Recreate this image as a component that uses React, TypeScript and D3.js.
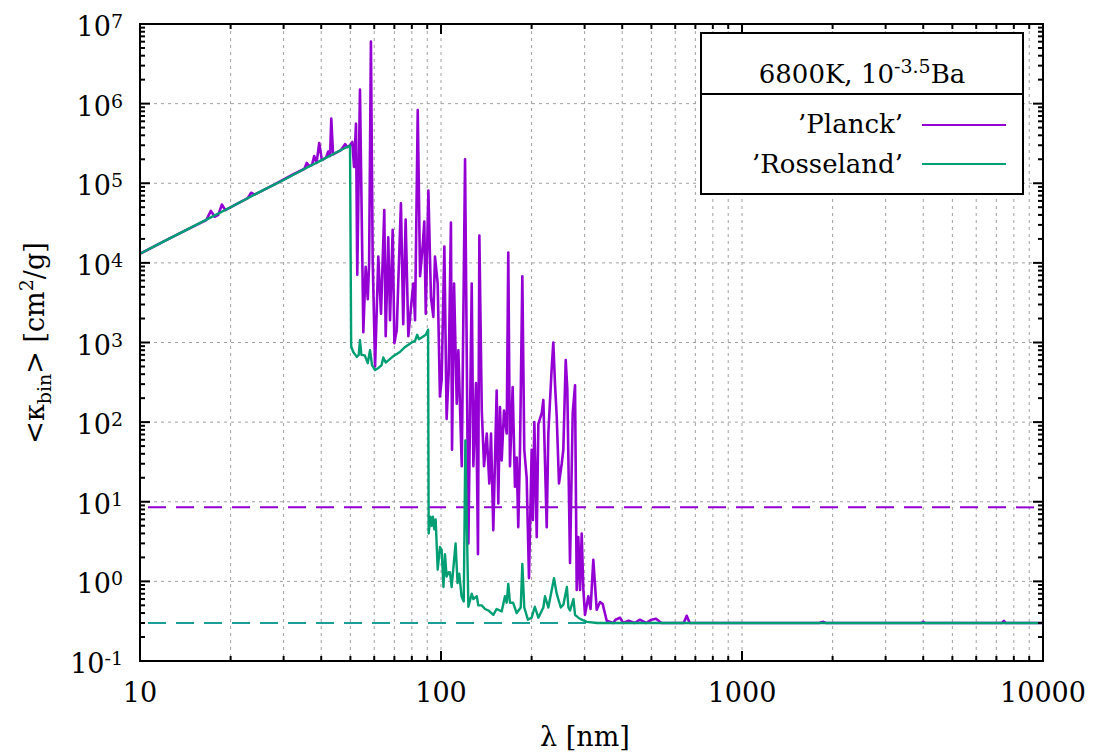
import React from 'react';
import * as d3 from 'd3';

// ---------- data ----------
const xTickValues = [10, 100, 1000, 10000];
const yTickExponents = [-1, 0, 1, 2, 3, 4, 5, 6, 7];

const planckMean = 8.5;
const rosselandMean = 0.3;

const planck: [number, number][] = [
  [10, 1.3e4], [12, 1.86e4], [14, 2.5e4], [16.6, 3.45e4], [17.2, 4.5e4], [17.7, 3.8e4], [18.2, 4.0e4],
  [18.7, 5.4e4], [19.2, 4.6e4], [22.8, 6.5e4], [23.4, 7.6e4], [24, 7.2e4], [28, 9.7e4], [32, 1.27e5],
  [35.2, 1.52e5], [35.8, 1.8e5], [36.5, 1.64e5], [37.3, 1.7e5], [37.9, 2.2e5], [38.6, 1.8e5],
  [39.4, 3.2e5], [40.2, 1.95e5], [41.5, 2.1e5], [42.2, 2.5e5], [42.8, 2.2e5], [43.2, 6.5e5],
  [43.8, 2.3e5], [46.5, 2.6e5], [48, 3.1e5], [48.8, 2.85e5], [49.85, 3.0e5],
  [50.75, 3.3e5], [51.4, 1.6e5], [52.2, 5.6e5], [52.7, 7.1e3], [53.8, 1.5e6], [55.2, 1.35e3],
  [56.2, 8.9e3], [57.1, 3.5e3], [57.7, 9.8e3], [58.5, 6.0e6], [59.3, 1.07e4], [60.4, 500],
  [61.9, 1.2e4], [63.2, 2.3e3], [64.8, 4.6e4], [65.5, 1.2e3], [66.8, 2.1e4], [67.7, 1.9e3],
  [69.1, 2.6e4], [70.0, 980], [71.3, 1.45e3], [72.1, 5.5e3], [73.6, 5.6e4], [74.9, 1.7e3],
  [76.3, 3.5e4], [77.9, 1.2e3], [79.5, 2.8e3], [80.9, 5.5e3], [82.0, 1.9e3], [83.7, 8.3e5],
  [85.2, 6.8e3], [87.0, 1.7e4], [88.0, 3.3e4], [89.0, 2.3e3], [90.8, 8.1e4], [92.6, 3.7e3],
  [94.3, 2.1e3], [95.5, 1.2e4], [97.5, 5.5e3], [99.2, 210], [100.5, 340], [102.6, 1.6e4],
  [104.4, 110], [106.0, 400], [107.9, 3.2e4], [108.8, 45], [110.5, 5.5e3], [112.8, 170],
  [114.2, 800], [117.2, 28], [120.2, 2.0e5], [123.3, 3.0], [126.5, 5.5e3], [128.1, 28],
  [130.7, 310], [132.7, 2.2], [134.1, 2.2e4], [136.6, 140], [139.0, 28], [141.9, 72], [144.7, 17],
  [146.6, 72], [149.2, 4.4], [153.1, 250], [155.0, 9.5], [157.0, 155], [159.1, 33], [161.9, 140],
  [165.3, 72], [167.3, 1.35e4], [169.5, 28], [173.0, 275], [176.1, 15.5], [178.4, 36], [180.6, 4.8],
  [183.0, 45], [186.3, 6.8e3], [189.1, 45], [192.6, 20], [196.0, 1.1], [200.1, 45], [202, 5.9],
  [204.2, 100], [208.0, 3.6], [210.6, 95], [216.1, 130], [218.8, 190], [224.5, 4.8], [227.3, 72],
  [233.3, 490], [236.1, 1.0e3], [239.2, 300], [242.3, 120], [246.6, 17], [251.8, 30], [254.9, 45],
  [259.6, 600], [262.8, 260], [268.3, 1.7], [273.9, 130], [278.8, 290], [282.4, 0.78], [285.9, 3.6],
  [289.7, 0.78], [293.4, 4.0], [297.1, 0.8], [300.9, 0.38], [308.6, 0.65], [314, 0.45], [320.6, 1.86],
  [329.1, 0.44], [337.5, 0.55], [344.5, 0.52], [355.2, 0.32], [373.6, 0.3], [380, 0.33], [393.3, 0.35],
  [403, 0.3], [420, 0.32], [440, 0.3], [458, 0.33], [480, 0.3], [500, 0.33], [518, 0.34], [540, 0.3],
  [640, 0.3], [655, 0.37], [670, 0.3], [1800, 0.3], [1862, 0.31], [1900, 0.3], [3950, 0.3],
  [4000, 0.31], [4050, 0.3], [7300, 0.3], [7413, 0.32], [7500, 0.3], [10000, 0.3],
];

const rosseland: [number, number][] = [
  [10, 1.3e4], [12, 1.86e4], [14, 2.5e4], [17, 3.65e4], [20, 5.0e4], [25, 7.8e4], [30, 1.1e5],
  [35, 1.5e5], [40, 1.94e5], [45, 2.45e5], [49.85, 2.98e5], [50.3, 900], [51.1, 760], [52.5, 660],
  [53.3, 700], [53.8, 1.07e3], [54.4, 700], [55.8, 690], [57.1, 550], [58.1, 800], [59, 520],
  [60.4, 450], [62, 480], [63.5, 520], [64.3, 650], [65.5, 560], [69, 660], [73, 760], [76, 880],
  [79.9, 1.0e3], [82, 1.05e3], [83.3, 1.25e3], [84.5, 1.1e3], [86, 1.15e3], [89, 1.25e3],
  [90.6, 1.45e3], [91.0, 4.0], [92.2, 6.5], [93.2, 5.0], [94.0, 6.5], [95.0, 4.5], [96.0, 6.0],
  [97.5, 1.4], [99.2, 2.7], [100.5, 2.5], [101.9, 0.85], [103.1, 2.2], [104.4, 1.15], [106, 1.3],
  [107.1, 1.3], [108.5, 0.85], [109.6, 1.3], [111.8, 3.0], [113.5, 0.95], [115, 1.25], [117.0, 0.65],
  [119.0, 0.56], [120.5, 59], [122.7, 1.25], [123.3, 0.48], [126.5, 0.7], [128.1, 0.6],
  [131.5, 0.65], [133, 0.5], [136.6, 0.5], [140, 0.45], [144, 0.43], [149.2, 0.38], [153, 0.45],
  [159.1, 0.42], [163.1, 0.65], [165.3, 0.54], [167.3, 0.93], [169.5, 0.54], [173.5, 0.54],
  [178.4, 0.4], [184, 0.47], [186.3, 1.66], [189.1, 0.47], [194.4, 0.33], [200.1, 0.35], [205, 0.48],
  [210.6, 0.35], [218.8, 0.47], [221.6, 0.65], [227.3, 0.47], [233.3, 0.78], [237.4, 1.1],
  [242.3, 0.7], [250, 0.47], [255, 0.51], [262, 0.85], [265, 0.47], [268.3, 0.43], [275.5, 0.6],
  [278.8, 0.38], [285.9, 0.35], [293.4, 0.33], [305, 0.31], [330, 0.3], [10000, 0.3],
];

const planckColor = '#9400d3';
const rossColor = '#009e73';
const rossMeanColor = '#1c9e98';
const FONT = 'DejaVu Serif';

export default function App() {
  const L = 140, R = 1043, T = 24, B = 661;
  const x = d3.scaleLog().domain([10, 10000]).range([L, R]);
  const y = d3.scaleLog().domain([0.1, 1e7]).range([B, T]);
  const line = d3.line<[number, number]>().x(d => x(d[0])).y(d => y(d[1]));

  const xMinor: number[] = [];
  [10, 100, 1000].forEach(d => { for (let k = 2; k <= 9; k++) xMinor.push(d * k); });
  const yMinor: number[] = [];
  yTickExponents.slice(0, -1).forEach(e => { for (let k = 2; k <= 9; k++) yMinor.push(k * Math.pow(10, e)); });

  const grid = '#a0a0a0';
  return (
    <svg width={1095} height={756} style={{ position: 'absolute', left: 0, top: 0, background: '#fff' }}
      fontFamily={FONT}>
      <defs>
        <clipPath id="plot"><rect x={L} y={T} width={R - L} height={B - T} /></clipPath>
      </defs>
      <rect x={0} y={0} width={1095} height={756} fill="#fff" />
      {/* grid */}
      {[...xMinor, 100, 1000].map((v, i) => (
        <line key={'gx' + i} x1={x(v)} x2={x(v)} y1={T} y2={B} stroke={grid} strokeWidth={1} strokeDasharray="3,4" />
      ))}
      {yTickExponents.slice(1, -1).map(e => (
        <line key={'gy' + e} x1={L} x2={R} y1={y(Math.pow(10, e))} y2={y(Math.pow(10, e))} stroke={grid} strokeWidth={1} strokeDasharray="3,4" />
      ))}
      <g clipPath="url(#plot)">
        <line x1={L} x2={R} y1={y(planckMean)} y2={y(planckMean)} stroke={planckColor} strokeWidth={2} strokeDasharray="18,10" strokeDashoffset={-8} />
        <line x1={L} x2={R} y1={y(rosselandMean)} y2={y(rosselandMean)} stroke={rossMeanColor} strokeWidth={2} strokeDasharray="18,10" strokeDashoffset={-8} />
        <path d={line(planck) || ''} fill="none" stroke={planckColor} strokeWidth={2.6} strokeLinejoin="round" />
        <path d={line(rosseland) || ''} fill="none" stroke={rossColor} strokeWidth={2.4} strokeLinejoin="round" />
      </g>
      {/* ticks */}
      {xTickValues.map(v => (
        <g key={'xt' + v}>
          <line x1={x(v)} x2={x(v)} y1={B} y2={B - 10} stroke="#000" strokeWidth={2} />
          <line x1={x(v)} x2={x(v)} y1={T} y2={T + 10} stroke="#000" strokeWidth={2} />
          <text x={x(v)} y={702} textAnchor="middle" fontSize={27}>{v}</text>
        </g>
      ))}
      {xMinor.map((v, i) => (
        <g key={'xm' + i}>
          <line x1={x(v)} x2={x(v)} y1={B} y2={B - 5} stroke="#000" strokeWidth={2} />
          <line x1={x(v)} x2={x(v)} y1={T} y2={T + 5} stroke="#000" strokeWidth={2} />
        </g>
      ))}
      {yTickExponents.map(e => {
        const yy = y(Math.pow(10, e));
        return (
          <g key={'yt' + e}>
            <line x1={L} x2={L + 10} y1={yy} y2={yy} stroke="#000" strokeWidth={2} />
            <line x1={R} x2={R - 10} y1={yy} y2={yy} stroke="#000" strokeWidth={2} />
            <text x={123} y={yy + 12} textAnchor="end" fontSize={27}>10<tspan dy={-8} fontSize={19}>{e}</tspan></text>
          </g>
        );
      })}
      {yMinor.map((v, i) => (
        <g key={'ym' + i}>
          <line x1={L} x2={L + 5} y1={y(v)} y2={y(v)} stroke="#000" strokeWidth={2} />
          <line x1={R} x2={R - 5} y1={y(v)} y2={y(v)} stroke="#000" strokeWidth={2} />
        </g>
      ))}
      <rect x={L} y={T} width={R - L} height={B - T} fill="none" stroke="#000" strokeWidth={2} />
      {/* axis titles */}
      <text x={585} y={746} textAnchor="middle" fontSize={27}>λ [nm]</text>
      <text transform="translate(44,343) rotate(-90)" textAnchor="middle" fontSize={27}>
        &lt;κ<tspan dy={7} fontSize={19}>bin</tspan><tspan dy={-7}>&gt; [cm</tspan><tspan dy={-11} fontSize={19}>2</tspan><tspan dy={11}>/g]</tspan>
      </text>
      {/* legend */}
      <rect x={701} y={33} width={322} height={161} fill="#fff" stroke="#000" strokeWidth={2} />
      <line x1={701} x2={1023} y1={94} y2={94} stroke="#000" strokeWidth={2} />
      <text x={862} y={83} textAnchor="middle" fontSize={26}>6800K, 10<tspan dy={-10} fontSize={19}>-3.5</tspan><tspan dy={10}>Ba</tspan></text>
      <text x={903} y={133} textAnchor="end" fontSize={26}>’Planck’</text>
      <line x1={922} x2={1006} y1={125} y2={125} stroke={planckColor} strokeWidth={2} />
      <text x={903} y={173} textAnchor="end" fontSize={26}>’Rosseland’</text>
      <line x1={922} x2={1006} y1={164} y2={164} stroke={rossColor} strokeWidth={2} />
    </svg>
  );
}
